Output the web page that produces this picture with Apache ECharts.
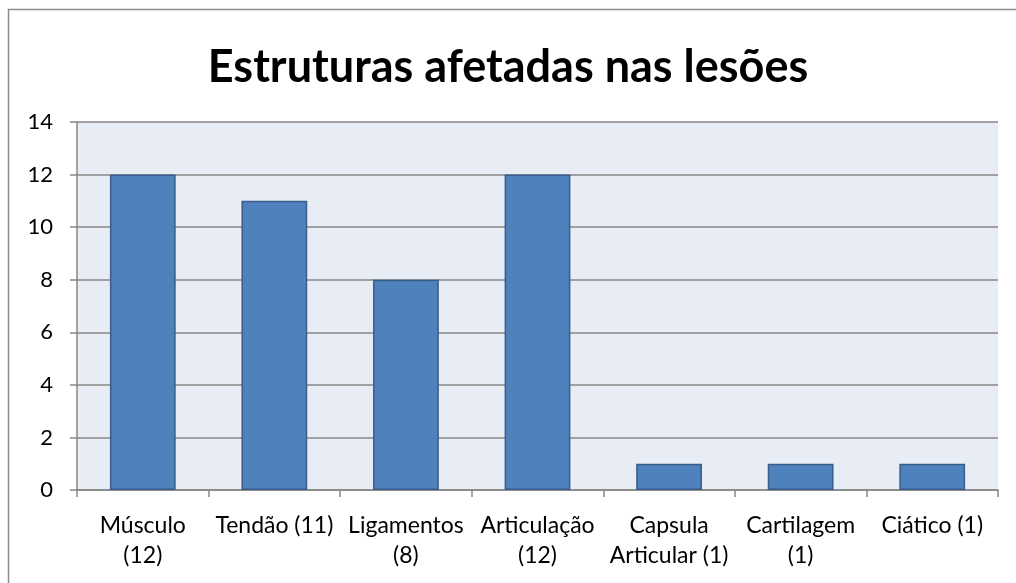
<!DOCTYPE html>
<html>
<head>
<meta charset="utf-8">
<script src="https://cdn.jsdelivr.net/npm/echarts@6/dist/echarts.min.js"></script>
<style>
  html, body { margin: 0; padding: 0; background: #fff; }
  #main { width: 1016px; height: 583px; }
</style>
</head>
<body>
<div id="main"></div>
<script>
// chart data
var categories = ['Músculo\n(12)', 'Tendão (11)', 'Ligamentos\n(8)', 'Articulação\n(12)', 'Capsula\nArticular (1)', 'Cartilagem\n(1)', 'Ciático (1)'];
var values = [12, 11, 8, 12, 1, 1, 1];
var titleText = 'Estruturas afetadas nas lesões';

var myChart = echarts.init(document.getElementById('main'));

var option = {
  animation: false,
  textStyle: { fontFamily: 'Lato' },
  title: {
    text: titleText,
    left: 'center',
    top: 40,
    textStyle: { fontFamily: 'Lato', fontWeight: 'bold', fontSize: 45, color: '#000' }
  },
  graphic: [{
    type: 'rect',
    shape: { x: 8.5, y: 9.5, width: 1020, height: 600 },
    style: { fill: 'none', stroke: '#8c8c8c', lineWidth: 1.5 },
    silent: true
  }],
  grid: { left: 77, right: 18, top: 122, bottom: 93, backgroundColor: '#e8edf5', show: true, borderWidth: 0 },
  xAxis: {
    type: 'category',
    data: categories,
    axisLine: { lineStyle: { color: '#868686', width: 1.5 } },
    axisTick: { show: true, length: 7, lineStyle: { color: '#868686', width: 1.5 } },
    axisLabel: { color: '#000', fontSize: 23, lineHeight: 30, margin: 21, interval: 0 }
  },
  yAxis: {
    type: 'value',
    min: 0,
    max: 14,
    interval: 2,
    axisLine: { show: true, lineStyle: { color: '#868686', width: 1.5 } },
    axisTick: { show: true, length: 7, lineStyle: { color: '#868686', width: 1.5 } },
    splitLine: { lineStyle: { color: '#868686', width: 1.5 } },
    axisLabel: { color: '#000', fontSize: 22, margin: 24 }
  },
  series: [{
    type: 'bar',
    data: values,
    barCategoryGap: '50%',
    itemStyle: { color: '#4f81bd', borderColor: '#385d8a', borderWidth: 1.5 }
  }]
};

myChart.setOption(option);
</script>
</body>
</html>
